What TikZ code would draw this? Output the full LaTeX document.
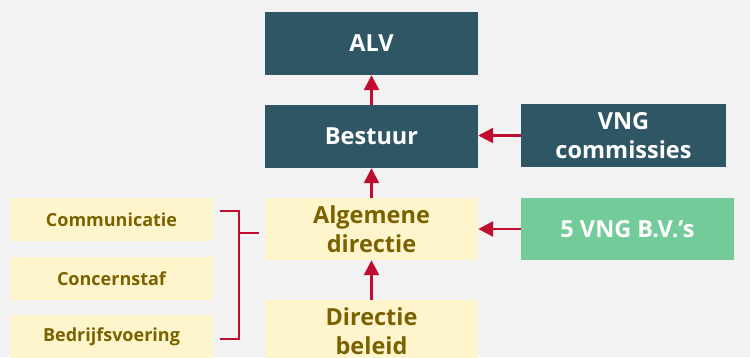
\documentclass[tikz,border=0pt]{standalone}
\usepackage{fontspec}
\setmainfont{Open Sans}
\usetikzlibrary{arrows.meta}
\definecolor{bg}{HTML}{F2F2F2}
\definecolor{teal}{HTML}{2F5665}
\definecolor{pale}{HTML}{FFF5CC}
\definecolor{olive}{HTML}{7A6200}
\definecolor{mint}{HTML}{72CB99}
\definecolor{arrowred}{HTML}{C00C30}
\tikzset{
  box/.style={rectangle, inner sep=0pt, align=center, font=\fontsize{23.5}{28.5}\selectfont\bfseries},
  darkbox/.style={box, fill=teal, text=white, minimum width=213pt, minimum height=63pt},
  palebox/.style={box, fill=pale, text=olive, minimum width=213pt, minimum height=62pt},
  greenbox/.style={box, fill=mint, text=white, minimum width=213pt, minimum height=62pt},
  sidebox/.style={rectangle, inner sep=0pt, fill=pale, text=olive, minimum width=203pt, minimum height=43pt, font=\fontsize{18}{21}\selectfont\bfseries},
  conn/.style={draw=arrowred, line width=2.6pt, -{Triangle[length=15pt,width=15pt]}},
  brack/.style={draw=arrowred, line width=1.8pt},
}
\begin{document}
\begin{tikzpicture}[x=1pt,y=1pt]
\useasboundingbox (0,0) rectangle (750,-357);
\fill[bg] (0,0) rectangle (750,-357);
\clip (0,0) rectangle (750,-357);
\node[darkbox] (alv) at (371.5,-43.5) {ALV};
\node[darkbox] (bestuur) at (371.5,-136.5) {Bestuur};
\node[darkbox, minimum width=205pt] (vng) at (623.5,-135.5) {VNG\\commissies};
\node[palebox] (alg) at (371.5,-229) {Algemene\\directie};
\node[greenbox] (bv) at (627.5,-229) {5 VNG B.V.’s};
\node[palebox] (dirb) at (371.5,-331) {Directie\\beleid};
\node[sidebox] (comm) at (111.5,-219.5) {Communicatie};
\node[sidebox] (conc) at (111.5,-278.5) {Concernstaf};
\node[sidebox] (bedr) at (111.5,-336.5) {Bedrijfsvoering};
\draw[conn] (bestuur) -- (alv);
\draw[conn] (alg) -- (bestuur);
\draw[conn] (dirb) -- (alg);
\draw[conn] (vng.west) -- (vng.west -| bestuur.east);
\draw[conn] (bv.west) -- (bv.west -| alg.east);
\coordinate (bt) at (220,-211);
\coordinate (bb) at (220,-339);
\coordinate (bm) at (239,-233);
\coordinate (be) at (259,-233);
\draw[brack] (bt) -- (bt -| bm) -- (bb -| bm) -- (bb);
\draw[brack] (bm) -- (be);
\end{tikzpicture}
\end{document}
